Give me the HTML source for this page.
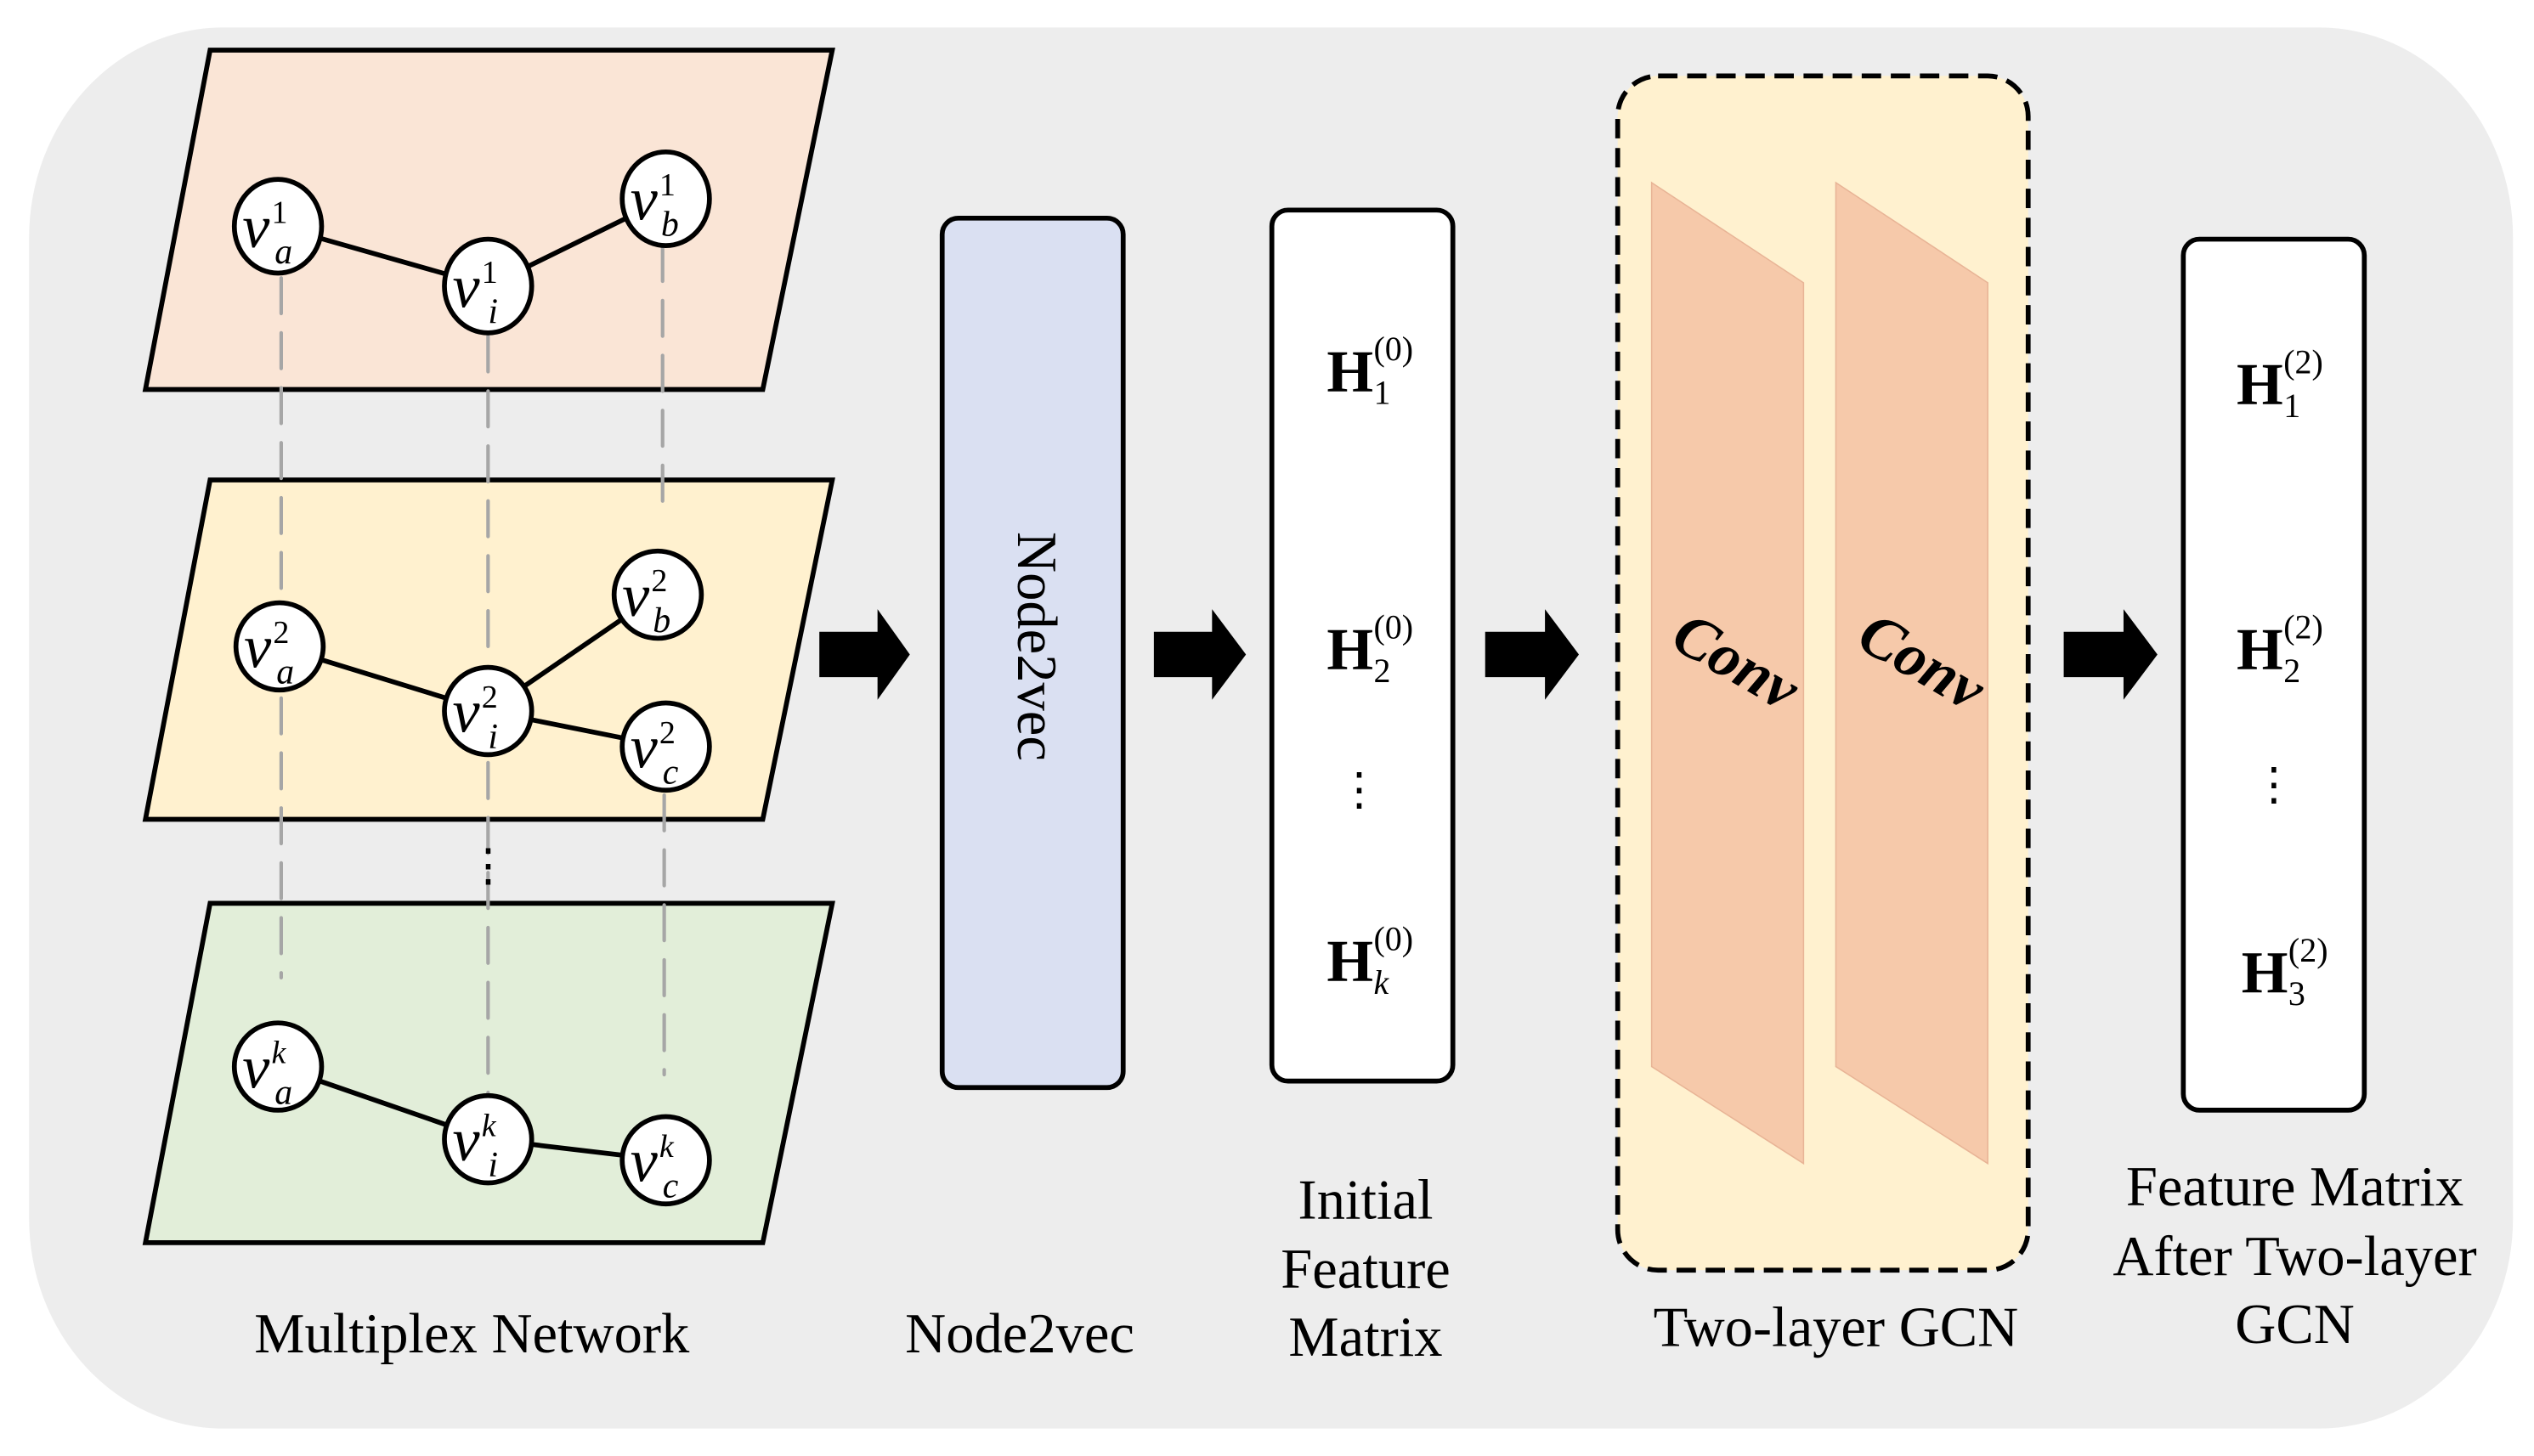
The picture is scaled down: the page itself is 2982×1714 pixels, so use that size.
<!DOCTYPE html>
<html><head><meta charset="utf-8"><style>html,body{margin:0;padding:0;background:#fff}svg{display:block}</style></head>
<body>
<svg width="2982" height="1714" viewBox="0 0 1568 901" preserveAspectRatio="none" xmlns="http://www.w3.org/2000/svg" font-family="Liberation Serif, serif">
<rect x="18" y="17" width="1537" height="867" rx="120" ry="130" fill="#ededed"/>
<g stroke="#000" stroke-width="3">
<polygon points="130,31 515,31 472,241 90,241" fill="#fae5d6"/>
<polygon points="130,297 515,297 472,507 90,507" fill="#fff1cf"/>
<polygon points="130,559 515,559 472,769 90,769" fill="#e2eed9"/>
</g>
<g stroke="#a6a6a6" stroke-width="2.2" stroke-dasharray="22,12" stroke-linecap="round" fill="none">
<line x1="174" y1="172" x2="174" y2="372"/><line x1="174" y1="432" x2="174" y2="605"/>
<line x1="302" y1="208" x2="302" y2="412"/><line x1="302" y1="472" x2="302" y2="678"/>
<line x1="410" y1="152" x2="410" y2="318"/><line x1="411" y1="492" x2="411" y2="665"/>
</g>
<g stroke="#000" stroke-width="3">
<line x1="172" y1="140" x2="302" y2="177"/><line x1="302" y1="177" x2="412" y2="123"/>
<line x1="172" y1="400" x2="302" y2="440"/><line x1="302" y1="440" x2="407" y2="368"/><line x1="302" y1="440" x2="412" y2="462"/>
<line x1="172" y1="660" x2="302" y2="705"/><line x1="302" y1="705" x2="412" y2="718"/>
</g>
<g fill="#fff" stroke="#000" stroke-width="3">
<ellipse cx="172" cy="140" rx="27" ry="29"/><ellipse cx="302" cy="177" rx="27" ry="29"/><ellipse cx="412" cy="123" rx="27" ry="29"/>
<circle cx="173" cy="400" r="27"/><circle cx="302" cy="440" r="27"/><circle cx="407" cy="368" r="27"/><circle cx="412" cy="462" r="27"/>
<circle cx="172" cy="660" r="27"/><circle cx="302" cy="705" r="27"/><circle cx="412" cy="718" r="27"/>
</g>
<g font-style="italic" font-size="38">
<text x="150" y="153">v</text><text x="168" y="138" font-size="20" font-style="normal">1</text><text x="170" y="163" font-size="22">a</text>
<text x="280" y="190">v</text><text x="298" y="175" font-size="20" font-style="normal">1</text><text x="302" y="200" font-size="22">i</text>
<text x="390" y="136">v</text><text x="408" y="121" font-size="20" font-style="normal">1</text><text x="409" y="146" font-size="22">b</text>
<text x="151" y="413">v</text><text x="169" y="398" font-size="20" font-style="normal">2</text><text x="171" y="423" font-size="22">a</text>
<text x="280" y="453">v</text><text x="298" y="438" font-size="20" font-style="normal">2</text><text x="302" y="463" font-size="22">i</text>
<text x="385" y="381">v</text><text x="403" y="366" font-size="20" font-style="normal">2</text><text x="404" y="391" font-size="22">b</text>
<text x="390" y="475">v</text><text x="408" y="460" font-size="20" font-style="normal">2</text><text x="410" y="485" font-size="22">c</text>
<text x="150" y="673">v</text><text x="168" y="658" font-size="20">k</text><text x="170" y="683" font-size="22">a</text>
<text x="280" y="718">v</text><text x="298" y="703" font-size="20">k</text><text x="302" y="728" font-size="22">i</text>
<text x="390" y="731">v</text><text x="408" y="716" font-size="20">k</text><text x="410" y="741" font-size="22">c</text>
</g>
<text x="302" y="545" font-size="28" text-anchor="middle">⋮</text>
<g fill="#000">
<polygon points="507,391 543,391 543,377 563,405 543,433 543,419 507,419"/>
<polygon points="714,391 750,391 750,377 771,405 750,433 750,419 714,419"/>
<polygon points="919,391 956,391 956,377 977,405 956,433 956,419 919,419"/>
<polygon points="1277,391 1314,391 1314,377 1335,405 1314,433 1314,419 1277,419"/>
</g>
<rect x="583" y="135" width="112" height="538" rx="10" fill="#dae0f2" stroke="#000" stroke-width="3"/>
<text transform="translate(630,400) rotate(90)" font-size="35" text-anchor="middle">Node2vec</text>
<rect x="787" y="130" width="112" height="539" rx="10" fill="#fff" stroke="#000" stroke-width="3"/>
<g font-size="37">
<text x="821" y="242" font-weight="bold">H</text><text x="850" y="223" font-size="21">(0)</text><text x="850" y="250" font-size="21">1</text>
<text x="821" y="414" font-weight="bold">H</text><text x="850" y="395" font-size="21">(0)</text><text x="850" y="422" font-size="21">2</text>
<text x="821" y="607" font-weight="bold">H</text><text x="850" y="588" font-size="21">(0)</text><text x="850" y="615" font-size="21" font-style="italic">k</text>
<text x="841" y="498" font-size="28" text-anchor="middle">⋮</text>
</g>
<rect x="1001" y="47" width="254" height="739" rx="25" fill="#fff1cf" stroke="#000" stroke-width="3" stroke-dasharray="12,6"/>
<polygon points="1022,113 1116,175 1116,720 1022,660" fill="#f6c9aa" stroke="#e8b496" stroke-width="0.8"/>
<polygon points="1136,113 1230,175 1230,720 1136,660" fill="#f6c9aa" stroke="#e8b496" stroke-width="0.8"/>
<text transform="translate(1068,420) rotate(30)" font-size="38" font-weight="bold" font-style="italic" text-anchor="middle">Conv</text>
<text transform="translate(1183,420) rotate(30)" font-size="38" font-weight="bold" font-style="italic" text-anchor="middle">Conv</text>
<rect x="1351" y="148" width="112" height="539" rx="10" fill="#fff" stroke="#000" stroke-width="3"/>
<g font-size="37">
<text x="1384" y="250" font-weight="bold">H</text><text x="1413" y="231" font-size="21">(2)</text><text x="1413" y="258" font-size="21">1</text>
<text x="1384" y="414" font-weight="bold">H</text><text x="1413" y="395" font-size="21">(2)</text><text x="1413" y="422" font-size="21">2</text>
<text x="1387" y="614" font-weight="bold">H</text><text x="1416" y="595" font-size="21">(2)</text><text x="1416" y="622" font-size="21">3</text>
<text x="1407" y="495" font-size="28" text-anchor="middle">⋮</text>
</g>
<g font-size="35" text-anchor="middle">
<text x="292" y="837">Multiplex Network</text>
<text x="631" y="837">Node2vec</text>
<text x="845" y="754">Initial</text><text x="845" y="797">Feature</text><text x="845" y="839">Matrix</text>
<text x="1136" y="833">Two-layer GCN</text>
<text x="1420" y="746">Feature Matrix</text><text x="1420" y="789">After Two-layer</text><text x="1420" y="831">GCN</text>
</g>
</svg>
</body></html>
